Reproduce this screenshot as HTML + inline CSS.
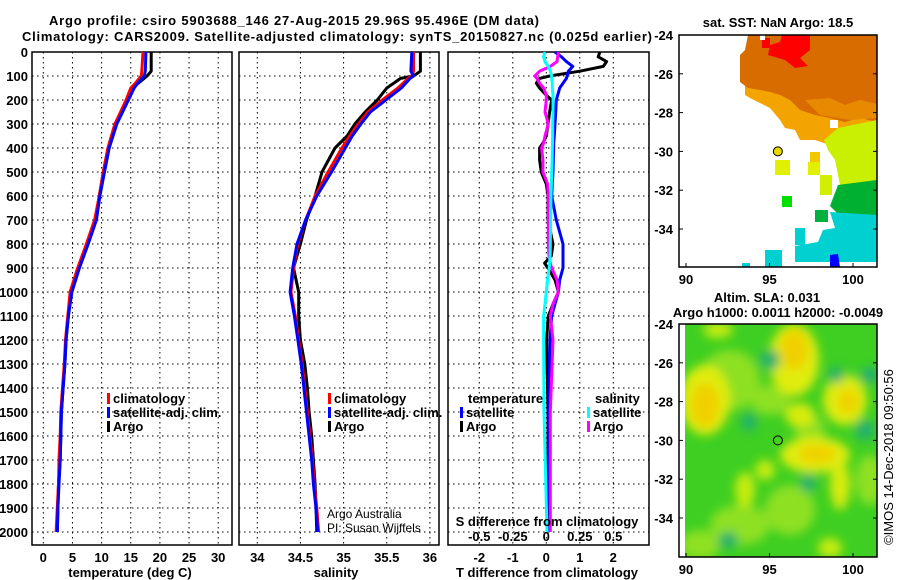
<!DOCTYPE html>
<html><head><meta charset="utf-8"><style>
html,body{margin:0;padding:0;background:#fff;width:900px;height:580px;overflow:hidden}
svg text{font-family:"Liberation Sans",sans-serif}
.b{font-weight:bold;font-size:13px}
</style></head><body>
<svg id="s" width="900" height="580" xmlns="http://www.w3.org/2000/svg">
<text class="b" x="294" y="25" text-anchor="middle" font-size="14" textLength="490">Argo profile: csiro 5903688_146 27-Aug-2015 29.96S 95.496E (DM data)</text>
<text class="b" x="337" y="41" text-anchor="middle" font-size="14" textLength="630">Climatology: CARS2009. Satellite-adjusted climatology: synTS_20150827.nc (0.025d earlier)</text>
<g id="p1"></g>
<g id="p2"></g>
<g id="p3"></g>
<g id="m1"></g>
<g id="m2"></g>
<text x="893" y="457" transform="rotate(-90 893 457)" text-anchor="middle" font-size="13">©IMOS 14-Dec-2018 09:50:56</text>
</svg>
<script>
// ---- data ----
const depthT = [0,80,100,130,150,200,300,400,500,600,700,800,900,1000,1100,1200,1300,1400,1500,1600,1700,1800,1900,2000];
const tempArgo = [18.5,18.5,17.8,16.3,15.2,14.3,12.3,11.1,10.3,9.6,8.9,7.5,6.0,4.7,4.3,3.9,3.7,3.4,3.1,3.0,2.9,2.6,2.5,2.4];
const tempClim = [17.1,16.9,16.8,15.8,15.0,14.2,12.3,11.1,10.3,9.6,8.8,7.4,5.9,4.6,4.2,3.8,3.6,3.3,3.0,2.9,2.7,2.6,2.4,2.2];
const tempSat  = [17.6,17.5,17.3,16.2,15.6,14.6,12.6,11.3,10.5,9.7,9.1,7.7,6.2,4.9,4.3,3.9,3.7,3.4,3.1,3.0,2.9,2.7,2.5,2.4];
const depthS = [0,80,100,110,150,200,250,300,350,400,500,600,700,800,900,1000,1100,1200,1300,1400,1500,1600,1700,1800,1900,2000];
const salArgo = [35.89,35.89,35.81,35.66,35.5,35.39,35.25,35.13,35.04,34.9,34.75,34.67,34.57,34.5,34.42,34.48,34.48,34.5,34.55,34.58,34.6,34.63,34.65,34.67,34.68,34.69];
const salClim = [35.81,35.81,35.79,35.75,35.63,35.45,35.28,35.17,35.07,34.98,34.82,34.67,34.56,34.47,34.42,34.39,34.44,34.48,34.52,34.55,34.58,34.61,34.64,34.66,34.69,34.71];
const salSat  = [35.79,35.78,35.81,35.77,35.67,35.49,35.31,35.2,35.1,35.02,34.86,34.69,34.56,34.46,34.41,34.38,34.43,34.47,34.51,34.54,34.57,34.6,34.63,34.65,34.68,34.7];
const depthD = [0,20,40,60,80,100,110,130,150,180,200,250,300,350,380,400,450,500,550,600,700,800,850,880,900,950,1000,1050,1100,1200,1500,2000];
const dTArgo = [1.6,1.55,1.8,1.7,1.0,0.1,-0.2,-0.3,-0.2,0,0.16,0.1,0.05,0,-0.1,-0.2,-0.2,-0.15,0,0.05,0.05,0.2,0.15,-0.05,0.05,0.26,0.36,0.2,0.06,0.01,0.05,0.06];
const dTSat  = [0.26,0.45,0.6,0.79,0.66,0.62,0.6,0.5,0.4,0.34,0.3,0.28,0.26,0.24,0.22,0.22,0.21,0.2,0.18,0.16,0.3,0.5,0.5,0.5,0.5,0.4,0.36,0.26,0.16,0.11,0.06,0.11];
const dSArgo = [0.09,0.085,0.08,0.03,-0.05,-0.085,-0.07,-0.05,-0.02,0,0,-0.01,0.015,-0.01,-0.02,-0.035,-0.025,-0.025,0.01,0.015,0.015,0.015,0.02,0.03,0.04,0.08,0.09,0.05,0.03,0.05,0.03,0.03];
const dSSat  = [-0.01,-0.02,-0.01,0.015,0.03,0.04,0.04,0.045,0.045,0.05,0.05,0.05,0.048,0.047,0.046,0.045,0.044,0.04,0.038,0.035,0.032,0.03,0.028,0.025,0.022,0.01,0,-0.01,-0.02,-0.02,-0.017,0.005];
const depthTicks = [0,100,200,300,400,500,600,700,800,900,1000,1100,1200,1300,1400,1500,1600,1700,1800,1900,2000];
const tTicks = [0,5,10,15,20,25,30];
const sTicks = [34,34.5,35,35.5,36];
const dTicks = [-2,-1,0,1,2];
const dsTicks = [-0.5,-0.25,0,0.25,0.5];
const latTicks = [-24,-26,-28,-30,-32,-34];
const lonTicks = [90,95,100];

const NS="http://www.w3.org/2000/svg";
function mk(parent,tag,attrs,txt){const e=document.createElementNS(NS,tag);for(const k in attrs)e.setAttribute(k,attrs[k]);if(txt!==undefined)e.textContent=txt;parent.appendChild(e);return e;}
const yD = d => 52 + d*0.24;
const Y0=52, Y1=545;

function panel(g,x0,x1,xs,xticks,fmt){
  for(const t of xticks){
    const x=xs(t);
    const l=mk(g,'line',{x1:x,x2:x,y1:Y0,y2:Y1,stroke:'#000','stroke-dasharray':'1.5,3.5','stroke-width':1});
    
    
    const tx=mk(g,'text',{x:x,y:562,'text-anchor':'middle',class:'b'},fmt(t));
    
    
  }
  for(const d of depthTicks){
    const l=mk(g,'line',{x1:x0,x2:x1,y1:yD(d),y2:yD(d),stroke:'#000','stroke-dasharray':'1.5,3.5','stroke-width':1});
    
    
  }
  const r=mk(g,'rect',{x:x0,y:Y0,width:x1-x0,height:Y1-Y0,fill:'none',stroke:'#000','stroke-width':1.5});
  
  
}
function line(g,xs,vals,depths,col,name){
  const pts=vals.map((v,i)=>xs(v).toFixed(1)+','+yD(depths[i]).toFixed(1)).join(' ');
  const p=mk(g,'polyline',{points:pts,fill:'none',stroke:col,'stroke-width':3,'stroke-linejoin':'round'});
  
  
}
function legend(g,x,y,items){
  items.forEach((it,i)=>{
    const r=mk(g,'rect',{x:x,y:y+i*14-11,width:3,height:11,fill:it[1]});
    
    
    const t=mk(g,'text',{x:x+6,y:y+i*14-1,class:'b'},it[0]);
    
    
  });
}

// Panel 1 temperature
const p1=document.getElementById('p1');
const xT=t=>43.3+t*5.83;
panel(p1,32,232,xT,tTicks,t=>String(t));
for(const d of depthTicks){const t=mk(p1,'text',{x:28,y:yD(d)+5,'text-anchor':'end',class:'b'},String(d));

}
line(p1,xT,tempArgo,depthT,'#000','temp-argo-line');
line(p1,xT,tempClim,depthT,'#f00','temp-climatology-line');
line(p1,xT,tempSat,depthT,'#00f','temp-satellite-line');
legend(p1,107,404,[['climatology','#f00'],['satellite-adj. clim.','#00f'],['Argo','#000']]);
{const t=mk(p1,'text',{x:130,y:577,'text-anchor':'middle',class:'b'},'temperature (deg C)');}

// Panel 2 salinity
const p2=document.getElementById('p2');
const xS=s=>257.3+(s-34)*86.3;
panel(p2,239,439,xS,sTicks,s=>String(s));
line(p2,xS,salArgo,depthS,'#000','sal-argo-line');
line(p2,xS,salClim,depthS,'#f00','sal-climatology-line');
line(p2,xS,salSat,depthS,'#00f','sal-satellite-line');
legend(p2,328,404,[['climatology','#f00'],['satellite-adj. clim.','#00f'],['Argo','#000']]);
{const t=mk(p2,'text',{x:327,y:518,'font-size':12},'Argo Australia');
const u=mk(p2,'text',{x:327,y:532,'font-size':12},'PI: Susan Wijffels');
const v=mk(p2,'text',{x:336,y:577,'text-anchor':'middle',class:'b'},'salinity');}

// Panel 3 differences
const p3=document.getElementById('p3');
const xDT=v=>546.3+v*33.5;
const xDS=v=>546.3+v*134;
panel(p3,448,649,xDT,dTicks,v=>String(v));
line(p3,xDT,dTArgo,depthD,'#000','tdiff-argo-line');
line(p3,xDT,dTSat,depthD,'#00f','tdiff-satellite-line');
line(p3,xDS,dSArgo,depthD,'#f0f','sdiff-argo-line');
line(p3,xDS,dSSat,depthD,'#0ff','sdiff-satellite-line');
{const t=mk(p3,'text',{x:468,y:403,class:'b'},'temperature');
const u=mk(p3,'text',{x:595,y:403,class:'b'},'salinity');}
legend(p3,460,418,[['satellite','#00f'],['Argo','#000']]);
legend(p3,587,418,[['satellite','#0ff'],['Argo','#f0f']]);
{const t=mk(p3,'text',{x:547,y:526,'text-anchor':'middle',class:'b'},'S difference from climatology');}
for(const v of dsTicks){const t=mk(p3,'text',{x:xDS(v),y:541,'text-anchor':'middle',class:'b'},String(v));

}
{const t=mk(p3,'text',{x:547,y:577,'text-anchor':'middle',class:'b'},'T difference from climatology');}

// Maps
const lonX=l=>686+(l-90)*16.7;
function mapFrame(g,top,bottom){
  const latY=la=>top+(-24-la)*19.4;
  for(const la of latTicks){
    const t=mk(g,'text',{x:673,y:latY(la)+5,'text-anchor':'end',class:'b','font-size':14},String(la));
    
    
    mk(g,'line',{x1:679,x2:683,y1:latY(la),y2:latY(la),stroke:'#000'});
    mk(g,'line',{x1:873,x2:877,y1:latY(la),y2:latY(la),stroke:'#000'});
  }
  for(const lo of lonTicks){
    const t=mk(g,'text',{x:lonX(lo),y:bottom+17,'text-anchor':'middle',class:'b','font-size':14},String(lo));
    
    
    mk(g,'line',{x1:lonX(lo),x2:lonX(lo),y1:bottom-4,y2:bottom,stroke:'#000'});
  }
  const r=mk(g,'rect',{x:679,y:top,width:198,height:bottom-top,fill:'none',stroke:'#000','stroke-width':1.5});
  
  
  return latY;
}
const m1=document.getElementById('m1');
{const t=mk(m1,'text',{x:778,y:27,'text-anchor':'middle',class:'b'},'sat. SST: NaN Argo: 18.5');}
const polys=[
 ['#f4a400','745,60 877,60 877,152 845,150 830,145 815,140 800,140 795,130 785,128 780,120 770,108 760,103 750,98 745,95'],
 ['#d86c00','748,35 877,35 877,122 860,118 845,122 830,118 815,115 800,110 790,100 780,95 770,92 760,90 748,88 740,82 740,55 745,50'],
 ['#e88a00','805,100 830,98 845,105 860,100 877,104 877,118 850,120 820,115'],
 ['#ff0000','782,35 810,35 810,50 800,58 808,66 795,68 785,60 768,55 770,45 780,42'],
 ['#ff0000','762,38 770,38 770,48 762,48'],
 ['#c8f000','838,128 877,120 877,200 870,192 850,190 840,185 835,160 828,150 824,140'],
 ['#00b030','838,185 877,180 877,222 860,218 840,216 830,206'],
 ['#00d0d0','830,212 877,215 877,262 795,262 795,246 818,242 823,230 835,228'],
 ['#0000ff','830,255 838,254 840,267 830,267'],
 ['#f4c800','810,152 820,152 820,162 810,162'],
 ['#e0f000','775,160 790,160 790,175 775,175'],
 ['#e0f000','808,162 820,162 820,175 808,175'],
 ['#d0f000','820,175 832,175 832,195 820,195'],
 ['#00e000','782,196 792,196 792,207 782,207'],
 ['#00b040','815,210 828,210 828,222 815,222'],
 ['#00d0d0','795,228 805,228 805,245 795,245'],
 ['#00d0d0','765,250 782,250 782,267 765,267'],
 ['#00d0d0','742,263 750,263 750,267 742,267'],
 ['#ffffff','830,120 838,120 838,128 830,128'],
 ['#ffffff','760,35 765,35 765,40 760,40'],
];
for(const p of polys){const e=mk(m1,'polygon',{points:p[1],fill:p[0]});}
const latY1=mapFrame(m1,35,267);
{const c=mk(m1,'circle',{cx:lonX(95.5),cy:latY1(-30),r:4.5,fill:'#e8d800',stroke:'#000'});}

const m2=document.getElementById('m2');
{const t=mk(m2,'text',{x:767,y:302,'text-anchor':'middle',class:'b'},'Altim. SLA: 0.031');
const u=mk(m2,'text',{x:778,y:317,'text-anchor':'middle',class:'b'},'Argo h1000: 0.0011 h2000: -0.0049');}
const defs=mk(m2,'defs',{});
const f=mk(defs,'filter',{id:'bl',x:'-50%',y:'-50%',width:'200%',height:'200%'});
mk(f,'feGaussianBlur',{stdDeviation:5});
const cp=mk(defs,'clipPath',{id:'cp2'});mk(cp,'rect',{x:685,y:324,width:192,height:233});
const gg=mk(m2,'g',{'clip-path':'url(#cp2)'});
mk(gg,'rect',{x:685,y:324,width:192,height:233,fill:'#3ecf22'});
const bl=mk(gg,'g',{filter:'url(#bl)'});
const blobs=[
 ['#8ee020',730,380,30,30],['#8ee020',770,400,20,15],['#8ee020',740,525,30,20],['#8ee020',790,510,25,25],['#8ee020',700,545,20,15],['#8ee020',870,480,15,25],['#8ee020',810,430,15,15],
 ['#e0ec10',705,400,25,35],['#f0d000',705,405,14,22],
 ['#e0ec10',794,360,25,36],['#f0d000',794,350,14,20],
 ['#e0ec10',845,400,22,25],['#f0d000',848,402,10,12],
 ['#d8ec10',800,415,15,12],
 ['#e0ec10',815,455,35,18],['#f0d000',817,454,18,9],['#d8ec10',840,485,10,25],
 ['#c8ec10',745,490,10,18],['#c8ec10',718,330,15,8],['#c8ec10',765,470,10,10],['#c8ec10',830,548,12,10],
 ['#20b070',749,422,8,9],['#20b070',808,483,8,9],['#20b070',728,540,10,8],['#20b070',836,375,8,8],['#20b070',865,430,10,10],['#20b070',870,375,10,8],['#20b070',770,360,10,10],
];
for(const b of blobs){const e=mk(bl,'ellipse',{cx:b[1],cy:b[2],rx:b[3],ry:b[4],fill:b[0]});}
const latY2=mapFrame(m2,324,557);
{const c=mk(m2,'circle',{cx:lonX(95.5),cy:latY2(-30),r:4.5,fill:'none',stroke:'#000'});}
</script>
</body></html>
